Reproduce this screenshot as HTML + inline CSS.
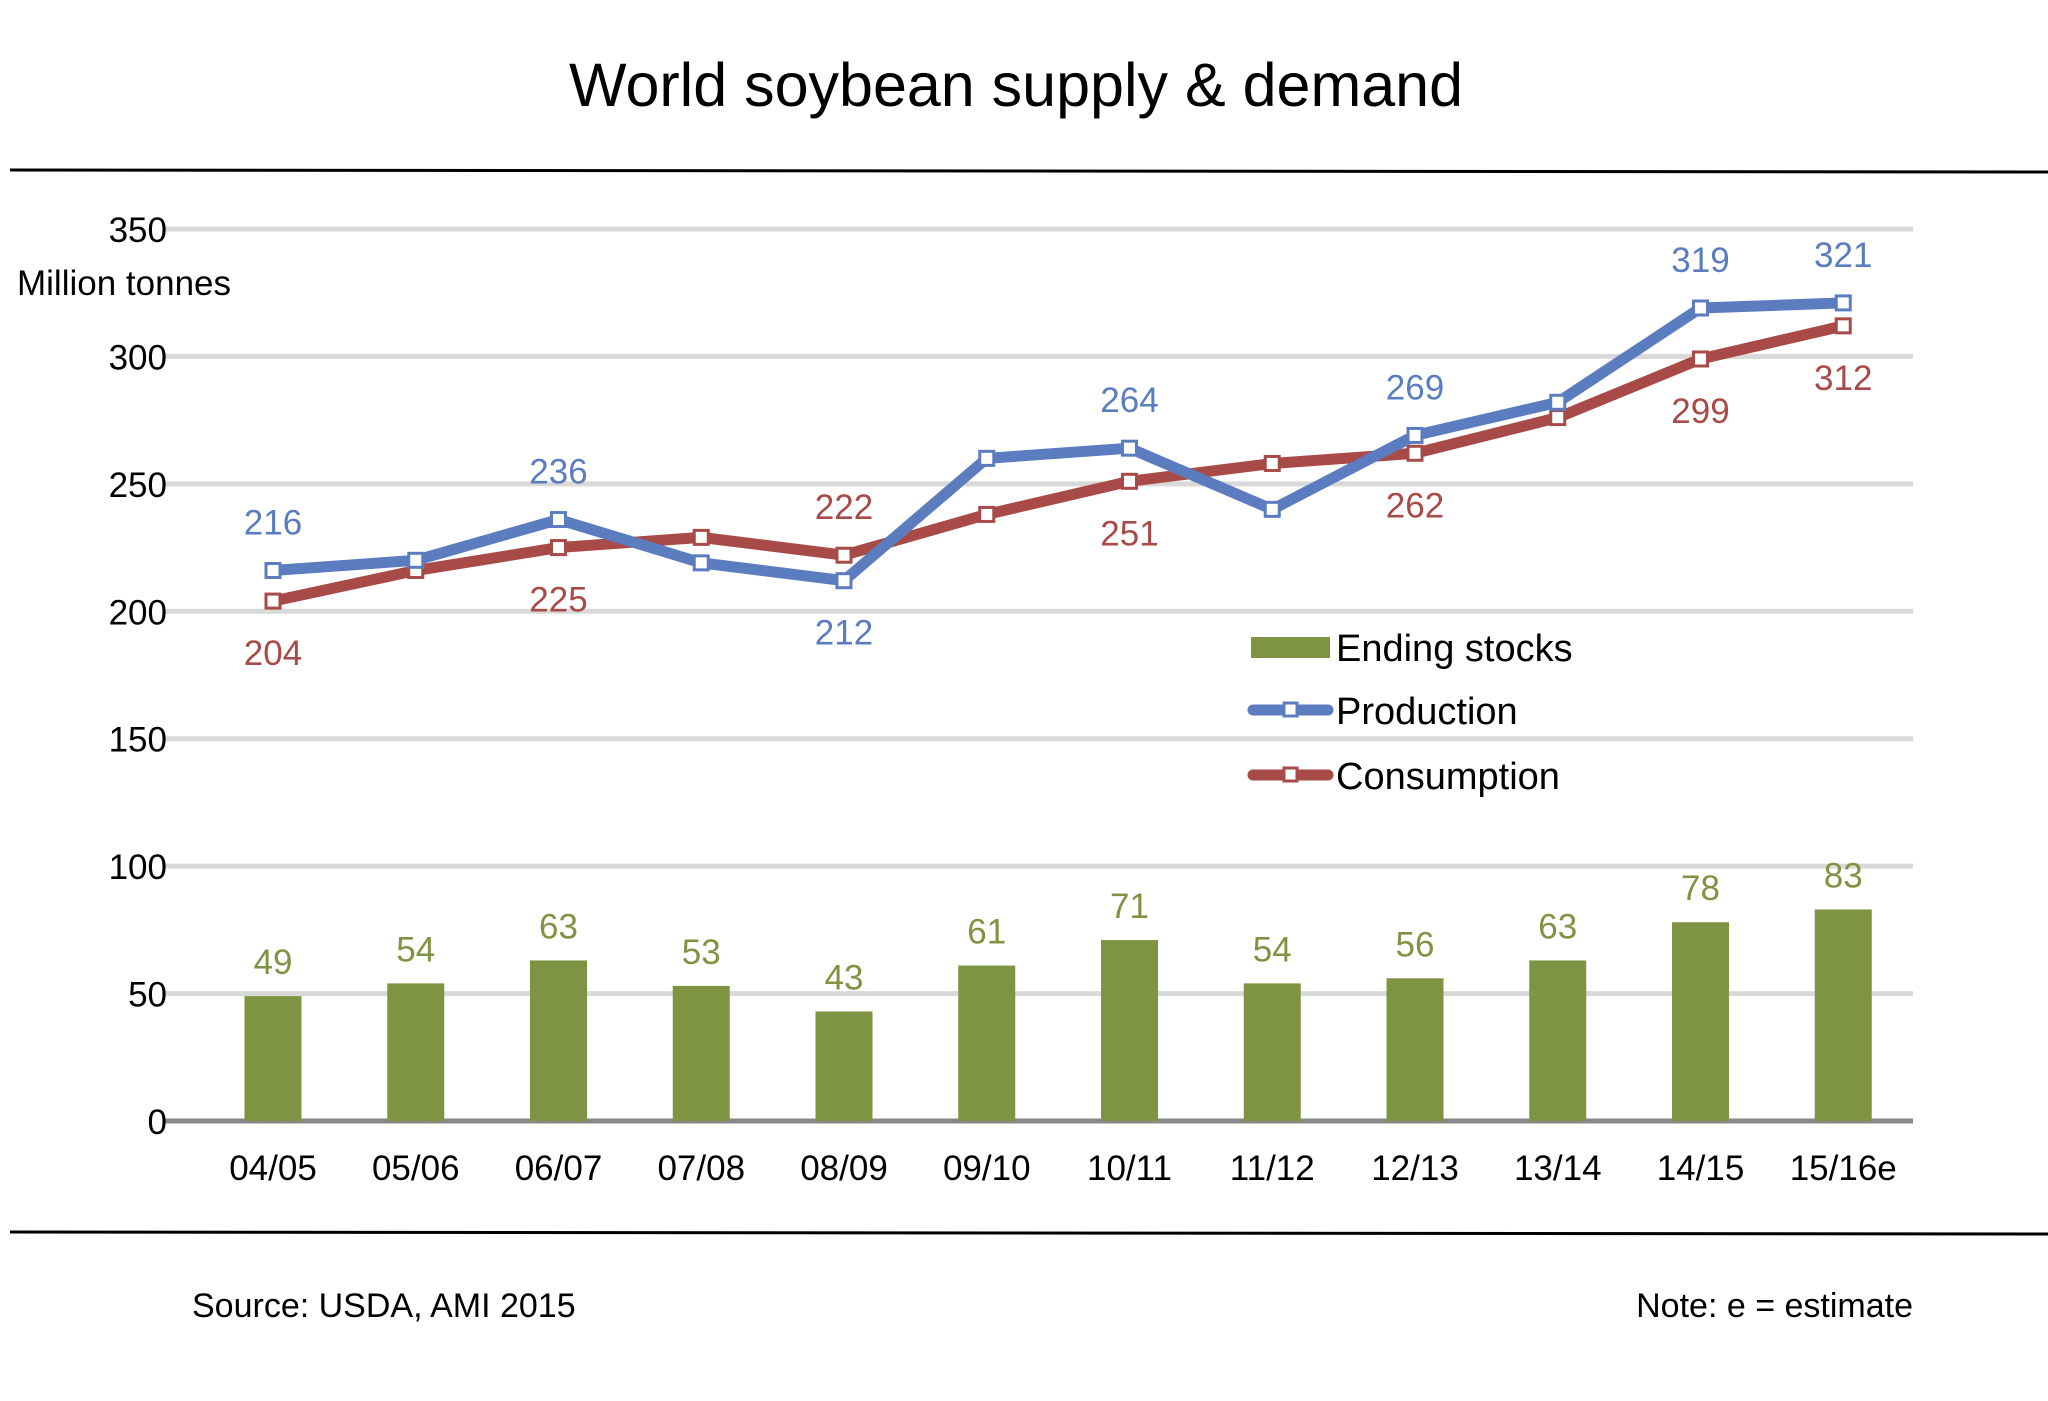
<!DOCTYPE html>
<html><head><meta charset="utf-8"><style>
html,body{margin:0;padding:0;background:#fff}
svg{display:block;font-family:"Liberation Sans",Arial,sans-serif}
</style></head><body>
<svg id="chart" width="2048" height="1401" viewBox="0 0 2048 1401">
<text x="1016" y="106" font-size="61" text-anchor="middle" fill="#000">World soybean supply &amp; demand</text>
<line x1="10" y1="170" x2="2048" y2="172" stroke="#000" stroke-width="3"/>
<line x1="10" y1="1232" x2="2048" y2="1234" stroke="#000" stroke-width="3"/>
<text x="17" y="295" font-size="35" fill="#000">Million tonnes</text>
<g id="grid"></g><g id="bars"></g><g id="lines"></g><g id="labels"></g>
<g>
<rect x="1251" y="637" width="79" height="21" fill="#7F9442"/>
<text x="1336" y="661" font-size="38">Ending stocks</text>
<line x1="1253" y1="710" x2="1328" y2="710" stroke="#5B7DBF" stroke-width="11" stroke-linecap="round"/>
<rect x="1284" y="703" width="13" height="13" fill="#fff" stroke="#5B7DBF" stroke-width="3"/>
<text x="1336" y="724" font-size="38">Production</text>
<line x1="1253" y1="775" x2="1328" y2="775" stroke="#A84A48" stroke-width="11" stroke-linecap="round"/>
<rect x="1284" y="768" width="13" height="13" fill="#fff" stroke="#A84A48" stroke-width="3"/>
<text x="1336" y="789" font-size="38">Consumption</text>
</g>
<text x="192" y="1317" font-size="34">Source:  USDA, AMI 2015</text>
<text x="1913" y="1317" font-size="34" text-anchor="end">Note: e = estimate</text>
</svg>
<script>
const categories=["04/05","05/06","06/07","07/08","08/09","09/10","10/11","11/12","12/13","13/14","14/15","15/16e"];
const endingStocks=[49,54,63,53,43,61,71,54,56,63,78,83];
const production=[216,220,236,219,212,260,264,240,269,282,319,321];
const consumption=[204,216,225,229,222,238,251,258,262,276,299,312];
const yTicks=[0,50,100,150,200,250,300,350];
const prodLabelIdx=[0,2,4,6,8,10,11];
const prodLabelBelow=[false,false,true,false,false,false,false];
const consLabelIdx=[0,2,4,6,8,10,11];
const consLabelBelow=[true,true,false,true,true,true,true];

const NS="http://www.w3.org/2000/svg";
const X0=163,X1=1913,Y0=1121,Y350=229;
const yS=v=>Y0-(v/350)*(Y0-Y350);
const xS=i=>273+i*142.75;
function mk(tag,attrs,parent){const e=document.createElementNS(NS,tag);for(const k in attrs)e.setAttribute(k,attrs[k]);parent.appendChild(e);return e;}
const grid=document.getElementById('grid'),bars=document.getElementById('bars'),lines=document.getElementById('lines'),labels=document.getElementById('labels');

yTicks.forEach(t=>{
  const l=mk('line',{x1:X0,x2:X1,y1:yS(t),y2:yS(t),stroke:t===0?'#898989':'#D9D9D9','stroke-width':5},grid);
  
  
  const tx=mk('text',{x:167,y:yS(t)+13,'font-size':35,'text-anchor':'end',fill:'#000'},grid);
  tx.textContent=t;
  
  
});
categories.forEach((c,i)=>{
  const tx=mk('text',{x:xS(i),y:1180,'font-size':35,'text-anchor':'middle',fill:'#000'},grid);
  tx.textContent=c;
  
  
});
endingStocks.forEach((v,i)=>{
  const r=mk('rect',{x:xS(i)-28.5,y:yS(v),width:57,height:Y0-yS(v),fill:'#7F9442'},bars);
  
  
  const tx=mk('text',{x:xS(i),y:yS(v)-22,'font-size':35,'text-anchor':'middle',fill:'#7F9442'},labels);
  tx.textContent=v;
  
  
});
function series(vals,color,name){
  const p=mk('polyline',{points:vals.map((v,i)=>xS(i)+','+yS(v)).join(' '),fill:'none',stroke:color,'stroke-width':11,'stroke-linejoin':'round'},lines);
  
  
  vals.forEach((v,i)=>{
    const m=mk('rect',{x:xS(i)-7,y:yS(v)-7,width:14,height:14,fill:'#fff',stroke:color,'stroke-width':3},lines);
    
    
  });
}
series(consumption,'#A84A48','consumption');
series(production,'#5B7DBF','production');
function vlabels(vals,idx,below,color,name){
  idx.forEach((i,k)=>{
    const y=below[k]?yS(vals[i])+64:yS(vals[i])-36;
    const tx=mk('text',{x:xS(i),y:y,'font-size':35,'text-anchor':'middle',fill:color},labels);
    tx.textContent=vals[i];
    
    
  });
}
vlabels(production,prodLabelIdx,prodLabelBelow,'#5B7DBF','production');
vlabels(consumption,consLabelIdx,consLabelBelow,'#A84A48','consumption');
</script>
</body></html>
